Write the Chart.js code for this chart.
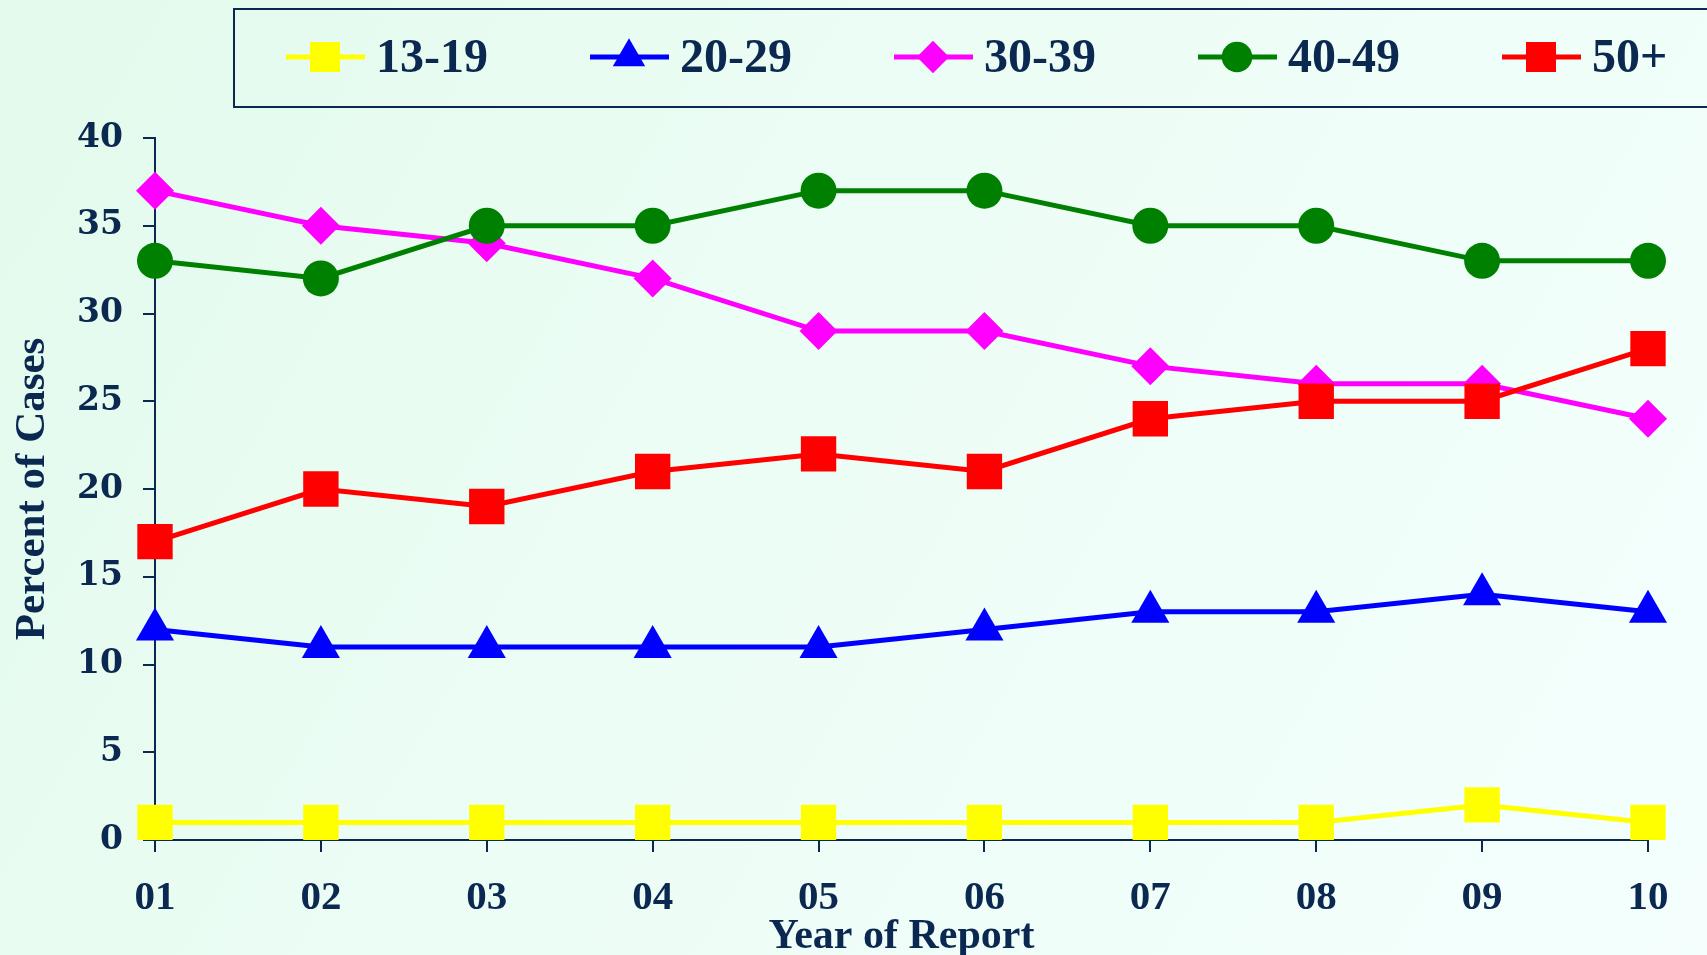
<!DOCTYPE html>
<html lang="en">
<head>
  <meta charset="UTF-8">
  <title>Percent of Cases by Age Group</title>
  <script src="https://cdn.jsdelivr.net/npm/chart.js"></script>
  <style>
    html, body {
      margin: 0;
      padding: 0;
      overflow: hidden;
    }
    body {
      background: linear-gradient(120deg, #e3faec 0%, #ecfdf5 45%, #f4fffd 100%);
      width: 1707px;
      height: 955px;
    }
    .wrap {
      position: relative;
      width: 1707px;
      height: 955px;
    }
  </style>
</head>
<body>
  <div class="wrap">
    <canvas id="chartAge"></canvas>
  </div>
  <script>
    const years = ['01', '02', '03', '04', '05', '06', '07', '08', '09', '10'];
    const groups = ['13-19', '20-29', '30-39', '40-49', '50+'];
    const age13to19 = [1, 1, 1, 1, 1, 1, 1, 1, 2, 1];
    const age20to29 = [12, 11, 11, 11, 11, 12, 13, 13, 14, 13];
    const age30to39 = [37, 35, 34, 32, 29, 29, 27, 26, 26, 24];
    const age40to49 = [33, 32, 35, 35, 37, 37, 35, 35, 33, 33];
    const age50plus = [17, 20, 19, 21, 22, 21, 24, 25, 25, 28];
    const yTicks = [0, 5, 10, 15, 20, 25, 30, 35, 40];

    const navy = '#0b2850';
    const colors = ['#ffff00', '#0000ff', '#ff00ff', '#008000', '#ff0000'];
    const styles = ['rect', 'triangle', 'rectRot', 'circle', 'rect'];
    const radii = [25, 22, 19, 18, 25];
    const series = [age13to19, age20to29, age30to39, age40to49, age50plus];

    const datasets = groups.map((g, i) => ({
      label: g,
      data: series[i],
      borderColor: colors[i],
      backgroundColor: colors[i],
      pointBackgroundColor: colors[i],
      pointBorderColor: colors[i],
      borderWidth: 5,
      pointStyle: styles[i],
      pointRadius: radii[i],
      pointHoverRadius: radii[i],
      pointBorderWidth: 0,
      tension: 0,
      order: groups.length - i
    }));

    // legend drawn by hand: line segment + marker + label, inside a framed box
    const boxLegend = {
      id: 'boxLegend',
      afterDraw(chart) {
        const ctx = chart.ctx;
        ctx.save();
        ctx.strokeStyle = navy;
        ctx.lineWidth = 2;
        ctx.strokeRect(234, 9, 1500, 98);
        const y = 57;
        chart.data.datasets.forEach((ds, i) => {
          const x0 = 286 + i * 304;
          ctx.strokeStyle = ds.borderColor;
          ctx.lineWidth = 5;
          ctx.beginPath();
          ctx.moveTo(x0, y);
          ctx.lineTo(x0 + 79, y);
          ctx.stroke();
          ctx.fillStyle = ds.backgroundColor;
          Chart.helpers.drawPoint(ctx, {
            pointStyle: ds.pointStyle,
            radius: ds.pointRadius * 0.85,
            rotation: 0,
            borderWidth: 0
          }, x0 + 39, y);
          ctx.fillStyle = navy;
          ctx.font = 'bold 48px "Liberation Serif", serif';
          ctx.textBaseline = 'middle';
          ctx.textAlign = 'left';
          ctx.fillText(ds.label, x0 + 90, y + 3);
        });
        ctx.restore();
      }
    };

    new Chart(document.getElementById('chartAge'), {
      type: 'line',
      data: { labels: years, datasets: datasets },
      options: {
        responsive: true,
        maintainAspectRatio: false,
        animation: false,
        events: [],
        layout: { padding: { top: 138, right: 59, left: 0, bottom: 0 } },
        plugins: {
          legend: { display: false },
          tooltip: { enabled: false }
        },
        scales: {
          x: {
            offset: false,
            grid: { display: true, drawOnChartArea: false, drawTicks: true, tickLength: 12, color: navy, lineWidth: 2 },
            border: { display: true, color: navy, width: 2 },
            ticks: {
              color: navy,
              padding: 22,
              maxRotation: 0,
              font: { family: '"Liberation Serif", serif', weight: 'bold', size: 41 }
            },
            title: {
              display: true,
              text: 'Year of Report',
              color: navy,
              padding: { top: 0, bottom: -3 },
              font: { family: '"Liberation Serif", serif', weight: 'bold', size: 42, lineHeight: 1 }
            },
            afterFit(scale) { scale.height = 115; }
          },
          y: {
            min: 0,
            max: 40,
            afterBuildTicks(scale) { scale.ticks = yTicks.map(v => ({ value: v })); },
            grid: { display: true, drawOnChartArea: false, drawTicks: true, tickLength: 12, color: navy, lineWidth: 2 },
            border: { display: true, color: navy, width: 2 },
            ticks: {
              color: navy,
              padding: 20,
              font: { family: '"DejaVu Serif", serif', weight: 'bold', size: 33 }
            },
            title: {
              display: true,
              text: 'Percent of Cases',
              color: navy,
              padding: { top: 11, bottom: 0 },
              font: { family: '"Liberation Serif", serif', weight: 'bold', size: 43, lineHeight: 1 }
            },
            afterFit(scale) { scale.width = 155; }
          }
        }
      },
      plugins: [boxLegend]
    });
  </script>
</body>
</html>
